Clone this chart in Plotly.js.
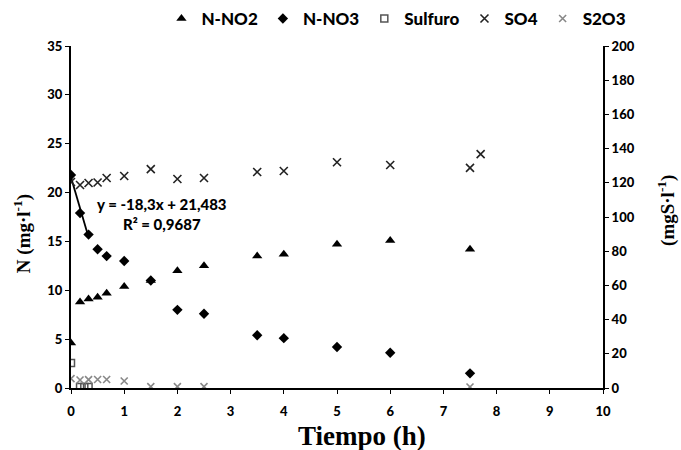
<!DOCTYPE html>
<html>
<head>
<meta charset="utf-8">
<script src="https://cdn.plot.ly/plotly-3.0.1.min.js"></script>
<style>html,body{margin:0;padding:0;background:#fff;}#chart{width:681px;height:450px;}</style>
</head>
<body>
<div id="chart"></div>
<script>
// ---- data ----
const tNO2 = [0, 0.17, 0.33, 0.5, 0.67, 1, 1.5, 2, 2.5, 3.5, 4, 5, 6, 7.5];
const nNO2 = [4.6, 8.8, 9.1, 9.3, 9.7, 10.4, 11.0, 12.0, 12.5, 13.5, 13.7, 14.7, 15.1, 14.2];

const tNO3 = [0, 0.17, 0.33, 0.5, 0.67, 1, 1.5, 2, 2.5, 3.5, 4, 5, 6, 7.5];
const nNO3 = [21.8, 17.9, 15.7, 14.2, 13.5, 13.0, 11.0, 8.0, 7.6, 5.4, 5.1, 4.2, 3.6, 1.5];

const tSulfuro = [0, 0.17, 0.25, 0.33];
const sulfuro = [14.6, 0.6, 0.6, 0.6];

const tSO4 = [0, 0.17, 0.33, 0.5, 0.67, 1, 1.5, 2, 2.5, 3.5, 4, 5, 6, 7.5, 7.7];
const so4 = [120.5, 118.7, 119.9, 120.2, 122.8, 124.0, 128.0, 122.2, 122.8, 126.3, 126.9, 132.0, 130.4, 128.7, 136.8];

const tS2O3 = [0, 0.17, 0.33, 0.5, 0.67, 1, 1.5, 2, 2.5, 7.5];
const s2o3 = [5.5, 4.7, 4.9, 5.0, 5.0, 4.1, 0.8, 0.8, 0.8, 0.6];

const xTicks = [0,1,2,3,4,5,6,7,8,9,10];
const yLeftTicks = [0,5,10,15,20,25,30,35];
const yRightTicks = [0,20,40,60,80,100,120,140,160,180,200];

const fitN = 3; // trendline over the first three N-NO3 points
const trendText = 'y = -18,3x + 21,483<br>R² = 0,9687';

// least-squares trendline from the data
const fx = tNO3.slice(0, fitN), fy = nNO3.slice(0, fitN);
const mx = fx.reduce((a,b)=>a+b,0)/fitN, my = fy.reduce((a,b)=>a+b,0)/fitN;
let sxy = 0, sxx = 0;
fx.forEach((x,i)=>{ sxy += (x-mx)*(fy[i]-my); sxx += (x-mx)*(x-mx); });
const slope = sxy/sxx, icpt = my - slope*mx;
const trendX = [fx[0], fx[fitN-1]];
const trendY = trendX.map(x => icpt + slope*x);

const sansBold = 'Lato, "Open Sans", sans-serif';
const serif = '"Liberation Serif", "DejaVu Serif", serif';
const tickFont = {family: sansBold, size: 13, color: '#000', weight: 900};
const titleFont = {family: serif, size: 19, color: '#000', weight: 700};

const traces = [
  {x: trendX, y: trendY, mode: 'lines', line: {color: '#000', width: 1.8}, showlegend: false, hoverinfo: 'skip'},
  {x: tNO2, y: nNO2, name: 'N-NO2', mode: 'markers', marker: {symbol: 'triangle-up', size: 9, color: '#000'}},
  {x: tNO3, y: nNO3, name: 'N-NO3', mode: 'markers', marker: {symbol: 'diamond', size: 8, color: '#000'}},
  {x: tSulfuro, y: sulfuro, name: 'Sulfuro', yaxis: 'y2', mode: 'markers',
   marker: {symbol: 'square-open', size: 7, color: '#555', line: {width: 1.5}}},
  {x: tSO4, y: so4, name: 'SO4', yaxis: 'y2', mode: 'markers',
   marker: {symbol: 'x-thin-open', size: 8, color: '#222', line: {width: 1.6, color: '#222'}}},
  {x: tS2O3, y: s2o3, name: 'S2O3', yaxis: 'y2', mode: 'markers',
   marker: {symbol: 'x-thin-open', size: 7, color: '#888', line: {width: 1.6, color: '#888'}}}
];

const layout = {
  width: 681, height: 450,
  margin: {l: 71, r: 78, t: 46, b: 62, autoexpand: false},
  paper_bgcolor: '#fff', plot_bgcolor: '#fff',
  showlegend: true,
  legend: {orientation: 'h', x: 0.17, xanchor: 'left', yref: 'container', y: 0.958, yanchor: 'middle',
    font: {family: sansBold, size: 17, color: '#000', weight: 900},
    itemwidth: 30, tracegroupgap: 0, bgcolor: 'rgba(0,0,0,0)'},
  xaxis: {range: [0, 10], tickvals: xTicks, ticktext: xTicks.map(String), showgrid: false, zeroline: false,
    showline: true, linecolor: '#000', linewidth: 2, ticks: 'outside', ticklen: 4, tickwidth: 1, tickcolor: '#000',
    tickfont: tickFont, ticklabelstandoff: 6},
  yaxis: {range: [0, 35], tickvals: yLeftTicks, ticktext: yLeftTicks.map(String), showgrid: false, zeroline: false,
    showline: true, linecolor: '#000', linewidth: 2, ticks: 'outside', ticklen: 4, tickwidth: 1, tickcolor: '#000',
    tickfont: tickFont},
  yaxis2: {range: [0, 200], tickvals: yRightTicks, ticktext: yRightTicks.map(String), overlaying: 'y', side: 'right',
    showgrid: false, zeroline: false, showline: true, linecolor: '#000', linewidth: 2,
    ticks: 'outside', ticklen: 4, tickwidth: 1, tickcolor: '#000', tickfont: tickFont},
  annotations: [
    {xref: 'paper', yref: 'paper', x: -0.092, y: 0.45, text: 'N (mg·l<sup>-1</sup>)', textangle: -90,
     showarrow: false, font: titleFont, xanchor: 'center', yanchor: 'middle'},
    {xref: 'paper', yref: 'paper', x: 1.118, y: 0.52, text: '(mgS·l<sup>-1</sup>)', textangle: -90,
     showarrow: false, font: titleFont, xanchor: 'center', yanchor: 'middle'},
    {xref: 'paper', yref: 'paper', x: 0.547, y: -0.14, text: 'Tiempo (h)', showarrow: false,
     xanchor: 'center', yanchor: 'middle', font: {family: serif, size: 27, color: '#000', weight: 700}},
    {xref: 'x', yref: 'y', x: 1.71, y: 17.8, text: trendText, showarrow: false, align: 'center',
     font: {family: sansBold, size: 15, color: '#000', weight: 900}}
  ]
};

Plotly.newPlot('chart', traces, layout, {displayModeBar: false, staticPlot: true});
</script>
</body>
</html>
